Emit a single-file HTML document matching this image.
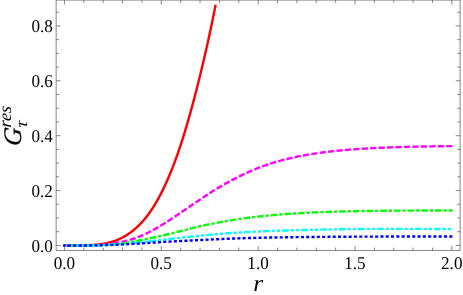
<!DOCTYPE html>
<html><head><meta charset="utf-8"><title>plot</title>
<style>
html,body{margin:0;padding:0;background:#fff;}
body{width:463px;height:295px;overflow:hidden;position:relative;font-family:"Liberation Serif",serif;}
svg{will-change:transform;position:absolute;left:0;top:0;display:block}
text{font-family:"Liberation Serif",serif;fill:#000;text-rendering:geometricPrecision}
</style></head><body>
<svg width="463" height="295" viewBox="0 0 463 295">

<g fill="none" stroke-width="2.40" stroke-linejoin="round">
<path d="M63.25 245.50 L64.45 245.50 L65.08 245.50 L65.71 245.50 L66.34 245.50 L66.97 245.50 L67.60 245.50 L68.23 245.50 L68.86 245.50 L69.49 245.50 L70.12 245.50 L70.75 245.50 L71.38 245.50 L72.01 245.50 L72.64 245.49 L73.27 245.49 L73.90 245.49 L74.53 245.49 L75.16 245.49 L75.79 245.48 L76.42 245.48 L77.05 245.47 L77.68 245.47 L78.31 245.46 L78.94 245.46 L79.57 245.45 L80.20 245.44 L80.83 245.43 L81.46 245.42 L82.09 245.41 L82.72 245.40 L83.35 245.38 L83.98 245.37 L84.61 245.35 L85.24 245.33 L85.87 245.31 L86.50 245.29 L87.13 245.27 L87.76 245.24 L88.39 245.21 L89.02 245.18 L89.65 245.15 L90.28 245.12 L90.91 245.08 L91.54 245.04 L92.17 245.00 L92.80 244.96 L93.43 244.91 L94.06 244.87 L94.69 244.81 L95.32 244.76 L95.95 244.70 L96.58 244.64 L97.21 244.57 L97.84 244.51 L98.47 244.43 L99.10 244.36 L99.73 244.28 L100.36 244.20 L100.99 244.11 L101.62 244.02 L102.25 243.92 L102.88 243.82 L103.51 243.72 L104.14 243.61 L104.77 243.49 L105.40 243.37 L106.03 243.25 L106.66 243.11 L107.29 242.98 L107.92 242.83 L108.55 242.68 L109.18 242.53 L109.81 242.37 L110.44 242.20 L111.07 242.02 L111.70 241.84 L112.33 241.65 L112.96 241.46 L113.59 241.25 L114.22 241.04 L114.85 240.82 L115.48 240.59 L116.11 240.36 L116.74 240.11 L117.37 239.86 L118.00 239.60 L118.63 239.33 L119.26 239.06 L119.89 238.77 L120.52 238.47 L121.15 238.17 L121.78 237.86 L122.41 237.53 L123.04 237.20 L123.67 236.86 L124.30 236.50 L124.93 236.14 L125.56 235.77 L126.19 235.39 L126.82 234.99 L127.45 234.59 L128.08 234.18 L128.71 233.76 L129.34 233.32 L129.97 232.88 L130.60 232.42 L131.23 231.96 L131.86 231.48 L132.48 230.99 L133.11 230.49 L133.74 229.98 L134.37 229.46 L135.00 228.92 L135.63 228.37 L136.26 227.81 L136.89 227.24 L137.52 226.65 L138.15 226.05 L138.78 225.43 L139.41 224.80 L140.04 224.16 L140.67 223.50 L141.30 222.83 L141.93 222.14 L142.56 221.44 L143.19 220.72 L143.82 219.99 L144.45 219.24 L145.08 218.48 L145.71 217.70 L146.34 216.91 L146.97 216.10 L147.60 215.27 L148.23 214.43 L148.86 213.57 L149.49 212.69 L150.12 211.80 L150.75 210.89 L151.38 209.96 L152.01 209.02 L152.64 208.06 L153.27 207.08 L153.90 206.08 L154.53 205.06 L155.16 204.03 L155.79 202.98 L156.42 201.91 L157.05 200.82 L157.68 199.71 L158.31 198.58 L158.94 197.43 L159.57 196.26 L160.20 195.08 L160.83 193.87 L161.46 192.65 L162.09 191.40 L162.72 190.13 L163.35 188.85 L163.98 187.54 L164.61 186.21 L165.24 184.86 L165.87 183.49 L166.50 182.10 L167.13 180.69 L167.76 179.26 L168.39 177.80 L169.02 176.33 L169.65 174.83 L170.28 173.31 L170.91 171.77 L171.54 170.20 L172.17 168.62 L172.80 167.01 L173.43 165.38 L174.06 163.72 L174.69 162.04 L175.32 160.34 L175.95 158.62 L176.58 156.88 L177.21 155.11 L177.84 153.31 L178.47 151.50 L179.10 149.66 L179.73 147.80 L180.36 145.91 L180.99 144.00 L181.62 142.07 L182.25 140.11 L182.88 138.13 L183.51 136.12 L184.14 134.09 L184.77 132.04 L185.40 129.96 L186.03 127.86 L186.66 125.73 L187.29 123.58 L187.92 121.40 L188.55 119.20 L189.18 116.98 L189.81 114.73 L190.44 112.46 L191.07 110.16 L191.70 107.85 L192.33 105.53 L192.96 103.18 L193.59 100.82 L194.22 98.44 L194.85 96.05 L195.48 93.63 L196.11 91.20 L196.74 88.75 L197.37 86.28 L198.00 83.79 L198.63 81.28 L199.26 78.75 L199.89 76.21 L200.52 73.64 L201.15 71.05 L201.78 68.44 L202.41 65.80 L203.04 63.15 L203.67 60.47 L204.30 57.77 L204.93 55.05 L205.56 52.30 L206.19 49.53 L206.82 46.73 L207.45 43.91 L208.08 41.07 L208.71 38.19 L209.34 35.29 L209.97 32.36 L210.60 29.41 L211.23 26.42 L211.86 23.41 L212.49 20.37 L213.12 17.30 L213.75 14.19 L214.38 11.06 L215.01 7.89 L215.64 4.69" stroke="#ff0000"/>
<path d="M63.25 245.50 L64.45 245.50 L66.06 245.50 L67.68 245.50 L69.29 245.50 L70.91 245.50 L72.52 245.49 L74.14 245.49 L75.75 245.49 L77.36 245.48 L78.98 245.48 L80.59 245.47 L82.21 245.46 L83.82 245.45 L85.43 245.44 L87.05 245.43 L88.66 245.41 L90.28 245.39 L91.89 245.36 L93.50 245.33 L95.12 245.28 L96.73 245.22 L98.35 245.13 L99.96 245.03 L101.58 244.92 L103.19 244.78 L104.80 244.63 L106.42 244.45 L108.03 244.26 L109.65 244.05 L111.26 243.83 L112.88 243.58 L114.49 243.32 L116.10 243.04 L117.72 242.74 L119.33 242.42 L120.95 242.09 L122.56 241.74 L124.17 241.38 L125.79 240.98 L127.40 240.56 L129.02 240.12 L130.63 239.64 L132.25 239.14 L133.86 238.61 L135.47 238.05 L137.09 237.46 L138.70 236.84 L140.32 236.20 L141.93 235.52 L143.54 234.81 L145.16 234.08 L146.77 233.32 L148.39 232.53 L150.00 231.71 L151.62 230.86 L153.23 230.00 L154.84 229.10 L156.46 228.19 L158.07 227.26 L159.69 226.30 L161.30 225.33 L162.91 224.34 L164.53 223.34 L166.14 222.32 L167.76 221.29 L169.37 220.24 L170.99 219.18 L172.60 218.12 L174.21 217.04 L175.83 215.96 L177.44 214.87 L179.06 213.77 L180.67 212.68 L182.28 211.59 L183.90 210.49 L185.51 209.40 L187.13 208.31 L188.74 207.21 L190.36 206.12 L191.97 205.02 L193.58 203.93 L195.20 202.84 L196.81 201.74 L198.43 200.65 L200.04 199.55 L201.65 198.46 L203.27 197.38 L204.88 196.31 L206.50 195.24 L208.11 194.19 L209.73 193.15 L211.34 192.12 L212.95 191.10 L214.57 190.09 L216.18 189.10 L217.80 188.12 L219.41 187.15 L221.02 186.19 L222.64 185.25 L224.25 184.32 L225.87 183.41 L227.48 182.51 L229.10 181.63 L230.71 180.76 L232.32 179.91 L233.94 179.07 L235.55 178.24 L237.17 177.43 L238.78 176.62 L240.39 175.83 L242.01 175.05 L243.62 174.28 L245.24 173.53 L246.85 172.79 L248.47 172.06 L250.08 171.34 L251.69 170.64 L253.31 169.96 L254.92 169.29 L256.54 168.63 L258.15 167.99 L259.76 167.36 L261.38 166.75 L262.99 166.16 L264.61 165.59 L266.22 165.03 L267.84 164.49 L269.45 163.96 L271.06 163.45 L272.68 162.94 L274.29 162.45 L275.91 161.98 L277.52 161.51 L279.13 161.06 L280.75 160.62 L282.36 160.18 L283.98 159.76 L285.59 159.35 L287.20 158.96 L288.82 158.57 L290.43 158.19 L292.05 157.82 L293.66 157.46 L295.28 157.11 L296.89 156.77 L298.50 156.44 L300.12 156.12 L301.73 155.81 L303.35 155.50 L304.96 155.21 L306.58 154.92 L308.19 154.64 L309.80 154.36 L311.42 154.10 L313.03 153.84 L314.65 153.59 L316.26 153.35 L317.87 153.11 L319.49 152.88 L321.10 152.66 L322.72 152.44 L324.33 152.23 L325.95 152.03 L327.56 151.83 L329.17 151.64 L330.79 151.45 L332.40 151.27 L334.02 151.09 L335.63 150.92 L337.24 150.76 L338.86 150.60 L340.47 150.44 L342.09 150.29 L343.70 150.14 L345.31 150.00 L346.93 149.86 L348.54 149.72 L350.16 149.59 L351.77 149.47 L353.39 149.35 L355.00 149.23 L356.61 149.11 L358.23 149.00 L359.84 148.89 L361.46 148.79 L363.07 148.68 L364.69 148.59 L366.30 148.49 L367.91 148.40 L369.53 148.31 L371.14 148.22 L372.76 148.14 L374.37 148.06 L375.98 147.98 L377.60 147.90 L379.21 147.82 L380.83 147.75 L382.44 147.68 L384.06 147.62 L385.67 147.55 L387.28 147.49 L388.90 147.43 L390.51 147.37 L392.13 147.31 L393.74 147.25 L395.35 147.20 L396.97 147.15 L398.58 147.10 L400.20 147.05 L401.81 147.00 L403.43 146.95 L405.04 146.91 L406.65 146.87 L408.27 146.83 L409.88 146.78 L411.50 146.75 L413.11 146.71 L414.72 146.67 L416.34 146.64 L417.95 146.60 L419.57 146.57 L421.18 146.54 L422.80 146.51 L424.41 146.48 L426.02 146.45 L427.64 146.42 L429.25 146.39 L430.87 146.37 L432.48 146.34 L434.09 146.32 L435.71 146.29 L437.32 146.27 L438.94 146.25 L440.55 146.23 L442.17 146.20 L443.78 146.18 L445.39 146.17 L447.01 146.15 L448.62 146.13 L450.24 146.11 L451.85 146.09 L452.57 146.09" stroke="#ff00ff" stroke-dasharray="6.25 2.2" stroke-dashoffset="0.7"/>
<path d="M63.25 245.50 L64.45 245.50 L66.06 245.50 L67.68 245.50 L69.29 245.50 L70.91 245.49 L72.52 245.49 L74.14 245.49 L75.75 245.48 L77.36 245.48 L78.98 245.47 L80.59 245.46 L82.21 245.46 L83.82 245.45 L85.43 245.44 L87.05 245.43 L88.66 245.41 L90.28 245.40 L91.89 245.38 L93.50 245.36 L95.12 245.34 L96.73 245.31 L98.35 245.28 L99.96 245.24 L101.58 245.19 L103.19 245.14 L104.80 245.08 L106.42 245.00 L108.03 244.91 L109.65 244.80 L111.26 244.67 L112.88 244.53 L114.49 244.38 L116.10 244.21 L117.72 244.03 L119.33 243.84 L120.95 243.64 L122.56 243.43 L124.17 243.20 L125.79 242.95 L127.40 242.69 L129.02 242.40 L130.63 242.11 L132.25 241.80 L133.86 241.48 L135.47 241.16 L137.09 240.83 L138.70 240.50 L140.32 240.17 L141.93 239.85 L143.54 239.54 L145.16 239.23 L146.77 238.92 L148.39 238.61 L150.00 238.28 L151.62 237.94 L153.23 237.60 L154.84 237.25 L156.46 236.90 L158.07 236.54 L159.69 236.18 L161.30 235.80 L162.91 235.42 L164.53 235.04 L166.14 234.65 L167.76 234.27 L169.37 233.87 L170.99 233.48 L172.60 233.08 L174.21 232.68 L175.83 232.28 L177.44 231.88 L179.06 231.47 L180.67 231.06 L182.28 230.65 L183.90 230.23 L185.51 229.82 L187.13 229.41 L188.74 229.01 L190.36 228.60 L191.97 228.20 L193.58 227.80 L195.20 227.41 L196.81 227.03 L198.43 226.65 L200.04 226.27 L201.65 225.91 L203.27 225.55 L204.88 225.20 L206.50 224.86 L208.11 224.53 L209.73 224.20 L211.34 223.88 L212.95 223.57 L214.57 223.26 L216.18 222.95 L217.80 222.64 L219.41 222.34 L221.02 222.04 L222.64 221.74 L224.25 221.45 L225.87 221.17 L227.48 220.89 L229.10 220.62 L230.71 220.35 L232.32 220.09 L233.94 219.83 L235.55 219.58 L237.17 219.33 L238.78 219.09 L240.39 218.86 L242.01 218.63 L243.62 218.40 L245.24 218.18 L246.85 217.96 L248.47 217.75 L250.08 217.55 L251.69 217.34 L253.31 217.15 L254.92 216.95 L256.54 216.77 L258.15 216.58 L259.76 216.40 L261.38 216.23 L262.99 216.05 L264.61 215.89 L266.22 215.72 L267.84 215.57 L269.45 215.41 L271.06 215.26 L272.68 215.11 L274.29 214.97 L275.91 214.83 L277.52 214.70 L279.13 214.56 L280.75 214.44 L282.36 214.31 L283.98 214.19 L285.59 214.07 L287.20 213.95 L288.82 213.84 L290.43 213.73 L292.05 213.63 L293.66 213.52 L295.28 213.42 L296.89 213.32 L298.50 213.23 L300.12 213.14 L301.73 213.05 L303.35 212.96 L304.96 212.87 L306.58 212.79 L308.19 212.71 L309.80 212.63 L311.42 212.56 L313.03 212.48 L314.65 212.41 L316.26 212.34 L317.87 212.28 L319.49 212.21 L321.10 212.15 L322.72 212.08 L324.33 212.02 L325.95 211.97 L327.56 211.91 L329.17 211.86 L330.79 211.80 L332.40 211.75 L334.02 211.70 L335.63 211.65 L337.24 211.61 L338.86 211.56 L340.47 211.52 L342.09 211.47 L343.70 211.43 L345.31 211.39 L346.93 211.35 L348.54 211.32 L350.16 211.28 L351.77 211.24 L353.39 211.21 L355.00 211.18 L356.61 211.15 L358.23 211.12 L359.84 211.09 L361.46 211.06 L363.07 211.03 L364.69 211.00 L366.30 210.98 L367.91 210.95 L369.53 210.93 L371.14 210.91 L372.76 210.89 L374.37 210.87 L375.98 210.85 L377.60 210.83 L379.21 210.81 L380.83 210.79 L382.44 210.77 L384.06 210.76 L385.67 210.74 L387.28 210.73 L388.90 210.72 L390.51 210.70 L392.13 210.69 L393.74 210.68 L395.35 210.67 L396.97 210.66 L398.58 210.65 L400.20 210.64 L401.81 210.63 L403.43 210.62 L405.04 210.61 L406.65 210.60 L408.27 210.60 L409.88 210.59 L411.50 210.58 L413.11 210.58 L414.72 210.57 L416.34 210.57 L417.95 210.56 L419.57 210.56 L421.18 210.55 L422.80 210.55 L424.41 210.55 L426.02 210.55 L427.64 210.54 L429.25 210.54 L430.87 210.54 L432.48 210.54 L434.09 210.54 L435.71 210.54 L437.32 210.54 L438.94 210.54 L440.55 210.54 L442.17 210.54 L443.78 210.54 L445.39 210.54 L447.01 210.54 L448.62 210.54 L450.24 210.54 L451.85 210.54 L452.57 210.54" stroke="#00ff00" stroke-dasharray="6.45 2.05 3.15 2.05" stroke-dashoffset="8.75"/>
<path d="M63.25 245.50 L64.45 245.50 L66.06 245.50 L67.68 245.50 L69.29 245.50 L70.91 245.50 L72.52 245.50 L74.14 245.49 L75.75 245.49 L77.36 245.48 L78.98 245.47 L80.59 245.47 L82.21 245.45 L83.82 245.44 L85.43 245.43 L87.05 245.41 L88.66 245.39 L90.28 245.36 L91.89 245.33 L93.50 245.30 L95.12 245.27 L96.73 245.23 L98.35 245.19 L99.96 245.14 L101.58 245.09 L103.19 245.03 L104.80 244.97 L106.42 244.91 L108.03 244.84 L109.65 244.77 L111.26 244.69 L112.88 244.60 L114.49 244.51 L116.10 244.42 L117.72 244.32 L119.33 244.21 L120.95 244.10 L122.56 243.99 L124.17 243.86 L125.79 243.74 L127.40 243.60 L129.02 243.46 L130.63 243.31 L132.25 243.15 L133.86 242.99 L135.47 242.83 L137.09 242.66 L138.70 242.49 L140.32 242.31 L141.93 242.13 L143.54 241.95 L145.16 241.77 L146.77 241.59 L148.39 241.41 L150.00 241.23 L151.62 241.05 L153.23 240.86 L154.84 240.68 L156.46 240.49 L158.07 240.31 L159.69 240.12 L161.30 239.93 L162.91 239.74 L164.53 239.56 L166.14 239.37 L167.76 239.18 L169.37 238.99 L170.99 238.81 L172.60 238.62 L174.21 238.44 L175.83 238.26 L177.44 238.07 L179.06 237.89 L180.67 237.71 L182.28 237.54 L183.90 237.36 L185.51 237.19 L187.13 237.01 L188.74 236.84 L190.36 236.67 L191.97 236.50 L193.58 236.34 L195.20 236.17 L196.81 236.01 L198.43 235.85 L200.04 235.70 L201.65 235.54 L203.27 235.38 L204.88 235.23 L206.50 235.08 L208.11 234.93 L209.73 234.78 L211.34 234.64 L212.95 234.49 L214.57 234.35 L216.18 234.21 L217.80 234.08 L219.41 233.94 L221.02 233.81 L222.64 233.68 L224.25 233.55 L225.87 233.43 L227.48 233.31 L229.10 233.19 L230.71 233.07 L232.32 232.96 L233.94 232.85 L235.55 232.74 L237.17 232.63 L238.78 232.53 L240.39 232.43 L242.01 232.33 L243.62 232.24 L245.24 232.15 L246.85 232.06 L248.47 231.97 L250.08 231.89 L251.69 231.81 L253.31 231.73 L254.92 231.65 L256.54 231.58 L258.15 231.50 L259.76 231.43 L261.38 231.36 L262.99 231.29 L264.61 231.23 L266.22 231.16 L267.84 231.10 L269.45 231.03 L271.06 230.97 L272.68 230.91 L274.29 230.86 L275.91 230.80 L277.52 230.74 L279.13 230.69 L280.75 230.64 L282.36 230.58 L283.98 230.53 L285.59 230.49 L287.20 230.44 L288.82 230.39 L290.43 230.34 L292.05 230.30 L293.66 230.26 L295.28 230.21 L296.89 230.17 L298.50 230.13 L300.12 230.09 L301.73 230.05 L303.35 230.01 L304.96 229.97 L306.58 229.93 L308.19 229.90 L309.80 229.86 L311.42 229.82 L313.03 229.79 L314.65 229.75 L316.26 229.72 L317.87 229.69 L319.49 229.65 L321.10 229.62 L322.72 229.59 L324.33 229.56 L325.95 229.53 L327.56 229.50 L329.17 229.47 L330.79 229.44 L332.40 229.41 L334.02 229.38 L335.63 229.36 L337.24 229.33 L338.86 229.30 L340.47 229.28 L342.09 229.25 L343.70 229.23 L345.31 229.20 L346.93 229.18 L348.54 229.16 L350.16 229.13 L351.77 229.11 L353.39 229.09 L355.00 229.07 L356.61 229.05 L358.23 229.03 L359.84 229.01 L361.46 228.99 L363.07 228.97 L364.69 228.96 L366.30 228.94 L367.91 228.92 L369.53 228.91 L371.14 228.89 L372.76 228.88 L374.37 228.87 L375.98 228.86 L377.60 228.85 L379.21 228.84 L380.83 228.84 L382.44 228.83 L384.06 228.83 L385.67 228.83 L387.28 228.83 L388.90 228.83 L390.51 228.83 L392.13 228.83 L393.74 228.83 L395.35 228.83 L396.97 228.84 L398.58 228.84 L400.20 228.84 L401.81 228.85 L403.43 228.85 L405.04 228.85 L406.65 228.86 L408.27 228.86 L409.88 228.87 L411.50 228.87 L413.11 228.88 L414.72 228.88 L416.34 228.88 L417.95 228.89 L419.57 228.90 L421.18 228.90 L422.80 228.91 L424.41 228.92 L426.02 228.92 L427.64 228.93 L429.25 228.94 L430.87 228.95 L432.48 228.96 L434.09 228.97 L435.71 228.98 L437.32 228.99 L438.94 229.00 L440.55 229.01 L442.17 229.02 L443.78 229.04 L445.39 229.05 L447.01 229.06 L448.62 229.07 L450.24 229.09 L451.85 229.10 L452.57 229.10" stroke="#00ffff" stroke-dasharray="6.6 2.0 3.2 2.0 3.2 2.0" stroke-dashoffset="8.5"/>
<path d="M63.25 245.50 L64.45 245.50 L66.06 245.50 L67.68 245.50 L69.29 245.50 L70.91 245.50 L72.52 245.50 L74.14 245.49 L75.75 245.49 L77.36 245.49 L78.98 245.48 L80.59 245.47 L82.21 245.46 L83.82 245.45 L85.43 245.44 L87.05 245.43 L88.66 245.41 L90.28 245.39 L91.89 245.37 L93.50 245.35 L95.12 245.32 L96.73 245.29 L98.35 245.26 L99.96 245.22 L101.58 245.19 L103.19 245.15 L104.80 245.10 L106.42 245.06 L108.03 245.01 L109.65 244.95 L111.26 244.90 L112.88 244.84 L114.49 244.78 L116.10 244.71 L117.72 244.64 L119.33 244.57 L120.95 244.50 L122.56 244.42 L124.17 244.34 L125.79 244.26 L127.40 244.17 L129.02 244.08 L130.63 243.99 L132.25 243.90 L133.86 243.80 L135.47 243.71 L137.09 243.61 L138.70 243.51 L140.32 243.40 L141.93 243.30 L143.54 243.20 L145.16 243.09 L146.77 242.99 L148.39 242.89 L150.00 242.78 L151.62 242.68 L153.23 242.58 L154.84 242.48 L156.46 242.39 L158.07 242.29 L159.69 242.19 L161.30 242.10 L162.91 242.00 L164.53 241.91 L166.14 241.82 L167.76 241.73 L169.37 241.64 L170.99 241.55 L172.60 241.46 L174.21 241.37 L175.83 241.28 L177.44 241.20 L179.06 241.11 L180.67 241.03 L182.28 240.95 L183.90 240.86 L185.51 240.78 L187.13 240.70 L188.74 240.62 L190.36 240.54 L191.97 240.46 L193.58 240.37 L195.20 240.29 L196.81 240.21 L198.43 240.13 L200.04 240.05 L201.65 239.97 L203.27 239.89 L204.88 239.81 L206.50 239.73 L208.11 239.65 L209.73 239.57 L211.34 239.49 L212.95 239.41 L214.57 239.33 L216.18 239.25 L217.80 239.18 L219.41 239.10 L221.02 239.03 L222.64 238.96 L224.25 238.89 L225.87 238.82 L227.48 238.75 L229.10 238.69 L230.71 238.62 L232.32 238.56 L233.94 238.50 L235.55 238.45 L237.17 238.39 L238.78 238.34 L240.39 238.29 L242.01 238.24 L243.62 238.19 L245.24 238.15 L246.85 238.10 L248.47 238.06 L250.08 238.02 L251.69 237.97 L253.31 237.93 L254.92 237.89 L256.54 237.85 L258.15 237.82 L259.76 237.78 L261.38 237.74 L262.99 237.71 L264.61 237.67 L266.22 237.64 L267.84 237.61 L269.45 237.57 L271.06 237.54 L272.68 237.51 L274.29 237.48 L275.91 237.45 L277.52 237.42 L279.13 237.40 L280.75 237.37 L282.36 237.34 L283.98 237.32 L285.59 237.29 L287.20 237.27 L288.82 237.25 L290.43 237.22 L292.05 237.20 L293.66 237.18 L295.28 237.16 L296.89 237.14 L298.50 237.12 L300.12 237.10 L301.73 237.08 L303.35 237.06 L304.96 237.04 L306.58 237.02 L308.19 237.01 L309.80 236.99 L311.42 236.97 L313.03 236.96 L314.65 236.94 L316.26 236.93 L317.87 236.91 L319.49 236.90 L321.10 236.88 L322.72 236.87 L324.33 236.86 L325.95 236.84 L327.56 236.83 L329.17 236.82 L330.79 236.81 L332.40 236.80 L334.02 236.78 L335.63 236.77 L337.24 236.76 L338.86 236.75 L340.47 236.74 L342.09 236.73 L343.70 236.72 L345.31 236.71 L346.93 236.70 L348.54 236.69 L350.16 236.69 L351.77 236.68 L353.39 236.67 L355.00 236.66 L356.61 236.65 L358.23 236.65 L359.84 236.64 L361.46 236.63 L363.07 236.63 L364.69 236.62 L366.30 236.61 L367.91 236.61 L369.53 236.60 L371.14 236.60 L372.76 236.59 L374.37 236.59 L375.98 236.58 L377.60 236.58 L379.21 236.57 L380.83 236.57 L382.44 236.56 L384.06 236.56 L385.67 236.56 L387.28 236.55 L388.90 236.55 L390.51 236.55 L392.13 236.54 L393.74 236.54 L395.35 236.54 L396.97 236.54 L398.58 236.53 L400.20 236.53 L401.81 236.53 L403.43 236.53 L405.04 236.53 L406.65 236.52 L408.27 236.52 L409.88 236.52 L411.50 236.52 L413.11 236.52 L414.72 236.52 L416.34 236.52 L417.95 236.52 L419.57 236.52 L421.18 236.52 L422.80 236.52 L424.41 236.52 L426.02 236.52 L427.64 236.52 L429.25 236.52 L430.87 236.52 L432.48 236.52 L434.09 236.52 L435.71 236.52 L437.32 236.52 L438.94 236.52 L440.55 236.52 L442.17 236.53 L443.78 236.53 L445.39 236.53 L447.01 236.53 L448.62 236.53 L450.24 236.54 L451.85 236.54 L452.57 236.54" stroke="#0000ff" stroke-dasharray="3.08 2.22" stroke-dashoffset="0.65"/>
</g>
<g stroke="#666666" fill="none">
<path d="M56.15 0.10 H460.12 V250.45 H56.15 Z" stroke-width="0.8"/>
<path d="M64.45 250.45 v-4.40 M64.45 0.10 v4.40 M83.82 250.45 v-2.85 M83.82 0.10 v2.85 M103.19 250.45 v-2.85 M103.19 0.10 v2.85 M122.56 250.45 v-2.85 M122.56 0.10 v2.85 M141.93 250.45 v-2.85 M141.93 0.10 v2.85 M161.30 250.45 v-4.40 M161.30 0.10 v4.40 M180.67 250.45 v-2.85 M180.67 0.10 v2.85 M200.04 250.45 v-2.85 M200.04 0.10 v2.85 M219.41 250.45 v-2.85 M219.41 0.10 v2.85 M238.78 250.45 v-2.85 M238.78 0.10 v2.85 M258.15 250.45 v-4.40 M258.15 0.10 v4.40 M277.52 250.45 v-2.85 M277.52 0.10 v2.85 M296.89 250.45 v-2.85 M296.89 0.10 v2.85 M316.26 250.45 v-2.85 M316.26 0.10 v2.85 M335.63 250.45 v-2.85 M335.63 0.10 v2.85 M355.00 250.45 v-4.40 M355.00 0.10 v4.40 M374.37 250.45 v-2.85 M374.37 0.10 v2.85 M393.74 250.45 v-2.85 M393.74 0.10 v2.85 M413.11 250.45 v-2.85 M413.11 0.10 v2.85 M432.48 250.45 v-2.85 M432.48 0.10 v2.85 M451.85 250.45 v-4.40 M451.85 0.10 v4.40 M56.15 245.45 h4.40 M460.12 245.45 h-4.40 M56.15 231.73 h2.85 M460.12 231.73 h-2.85 M56.15 218.01 h2.85 M460.12 218.01 h-2.85 M56.15 204.29 h2.85 M460.12 204.29 h-2.85 M56.15 190.57 h4.40 M460.12 190.57 h-4.40 M56.15 176.85 h2.85 M460.12 176.85 h-2.85 M56.15 163.13 h2.85 M460.12 163.13 h-2.85 M56.15 149.41 h2.85 M460.12 149.41 h-2.85 M56.15 135.69 h4.40 M460.12 135.69 h-4.40 M56.15 121.97 h2.85 M460.12 121.97 h-2.85 M56.15 108.25 h2.85 M460.12 108.25 h-2.85 M56.15 94.53 h2.85 M460.12 94.53 h-2.85 M56.15 80.81 h4.40 M460.12 80.81 h-4.40 M56.15 67.09 h2.85 M460.12 67.09 h-2.85 M56.15 53.37 h2.85 M460.12 53.37 h-2.85 M56.15 39.65 h2.85 M460.12 39.65 h-2.85 M56.15 25.93 h4.40 M460.12 25.93 h-4.40 M56.15 12.21 h2.85 M460.12 12.21 h-2.85" stroke-width="0.8"/>
</g>
<text transform="translate(64.35,269.20) scale(0.950,1)" font-size="18.0" text-anchor="middle">0.0</text>
<text transform="translate(161.20,269.20) scale(0.950,1)" font-size="18.0" text-anchor="middle">0.5</text>
<text transform="translate(258.05,269.20) scale(0.950,1)" font-size="18.0" text-anchor="middle">1.0</text>
<text transform="translate(354.90,269.20) scale(0.950,1)" font-size="18.0" text-anchor="middle">1.5</text>
<text transform="translate(451.75,269.20) scale(0.950,1)" font-size="18.0" text-anchor="middle">2.0</text>
<text transform="translate(52.90,251.50) scale(0.950,1)" font-size="18.0" text-anchor="end">0.0</text>
<text transform="translate(52.90,196.54) scale(0.950,1)" font-size="18.0" text-anchor="end">0.2</text>
<text transform="translate(52.90,141.58) scale(0.950,1)" font-size="18.0" text-anchor="end">0.4</text>
<text transform="translate(52.90,86.62) scale(0.950,1)" font-size="18.0" text-anchor="end">0.6</text>
<text transform="translate(52.90,31.66) scale(0.950,1)" font-size="18.0" text-anchor="end">0.8</text>
<g font-style="italic"><text transform="translate(253.2,290.5) scale(1.08,1)" font-size="23.6">r</text><text transform="translate(20.7,146.5) rotate(-90) skewX(-6)" font-size="25.3" stroke="#000" stroke-width="0.25">G</text><text transform="translate(11.3,127.7) rotate(-90) skewX(-4)" font-size="18">res</text><text transform="translate(26.6,128.1) rotate(-90) skewX(-4) scale(1.15,1)" font-size="17">τ</text></g>
</svg></body></html>
